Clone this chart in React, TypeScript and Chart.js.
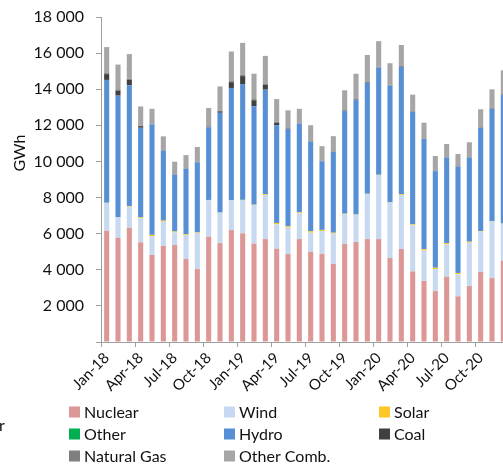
import React, { useEffect, useRef } from 'react';
import { Chart, registerables } from 'chart.js';
Chart.register(...registerables);

const months = [
  'Jan-18','Feb-18','Mar-18','Apr-18','May-18','Jun-18','Jul-18','Aug-18','Sep-18','Oct-18','Nov-18','Dec-18',
  'Jan-19','Feb-19','Mar-19','Apr-19','May-19','Jun-19','Jul-19','Aug-19','Sep-19','Oct-19','Nov-19','Dec-19',
  'Jan-20','Feb-20','Mar-20','Apr-20','May-20','Jun-20','Jul-20','Aug-20','Sep-20','Oct-20','Nov-20','Dec-20',
];

const nuclear = [6160,5760,6330,5520,4820,5320,5370,4600,4040,5830,5480,6200, 6020,5450,5700,5170,4870,5700,5000,4870,4320,5430,5540,5700, 5700,4650,5150,3910,3380,2820,3620,2530,3100,3880,3540,4500];
const wind = [1540,1140,1160,1330,1050,1340,700,1320,2000,2020,1680,1650, 1840,2140,2440,1350,1460,1430,1050,1280,1680,1640,1510,2500, 3550,3070,2990,2550,1680,1220,1790,1220,2400,2230,3140,2050];
const solar = [10,10,40,50,60,60,50,45,30,15,10,5, 10,15,40,70,70,55,80,55,50,35,15,10, 10,15,45,55,75,70,70,70,55,35,15,10];
const other = [5,5,5,5,5,5,5,5,5,5,5,5, 5,5,5,5,5,5,5,5,5,5,5,5, 5,5,5,5,5,5,5,5,5,5,5,5];
const hydro = [6800,6730,6680,4960,6120,3870,3140,3620,3880,4020,5520,6210, 6410,5450,5790,5410,5390,4910,4960,3800,4470,5680,6330,6130, 5930,6460,7040,6220,6100,5350,4720,5890,4650,5720,6220,7110];
const coal = [320,280,310,90,10,5,5,5,5,20,80,320, 440,330,280,140,5,5,5,5,5,10,10,10, 5,5,5,5,5,5,5,5,5,5,5,5];
const naturalGas = [60,70,60,40,30,30,25,25,30,40,50,60, 70,60,60,50,40,30,35,30,30,40,50,50, 50,45,45,35,30,30,25,25,30,35,40,45];
const otherComb = [1440,1370,1360,1050,820,760,690,730,810,1010,1330,1640, 1770,1410,1530,1260,990,780,870,800,840,1100,1400,1490, 1410,1190,1170,920,870,800,730,670,820,980,1030,1320];

const seriesNames = ['Nuclear','Wind','Solar','Other','Hydro','Coal','Natural Gas','Other Comb.'];
const seriesColors = ['#dc9896','#c6d9f1','#ffc628','#00b050','#578fd6','#404040','#7f7f7f','#a6a6a6'];
const seriesData = [nuclear, wind, solar, other, hydro, coal, naturalGas, otherComb];

const AXIS = '#a0a0a0';
const TEXT = '#111111';
const FONT = 'Lato';

const fmt = (v: number) => String(v).replace(/\B(?=(\d{3})+(?!\d))/g, ' ');

const overlay = {
  id: 'overlay',
  afterDraw(chart: any) {
    const ctx = chart.ctx as CanvasRenderingContext2D;
    ctx.save();
    ctx.fillStyle = TEXT;
    ctx.font = `16px ${FONT}`;
    // y-axis title
    ctx.save();
    ctx.translate(20, 153);
    ctx.rotate(-Math.PI / 2);
    ctx.textAlign = 'center';
    ctx.textBaseline = 'middle';
    ctx.fillText('GWh', 0, 0);
    ctx.restore();
    // cut-off text at left
    ctx.textAlign = 'left';
    ctx.textBaseline = 'middle';
    ctx.fillText('r', -1, 426);
    // legend
    const ds = chart.data.datasets;
    ds.forEach((d: any, i: number) => {
      const col = i % 3;
      const row = Math.floor(i / 3);
      const cy = 412 + row * 22;
      const bx = 69 + col * 155;
      ctx.fillStyle = d.backgroundColor;
      ctx.fillRect(bx, cy - 5.5, 11, 11);
      ctx.fillStyle = TEXT;
      ctx.fillText(d.label, bx + 15, cy + 1);
    });
    ctx.restore();
  },
};

export default function App() {
  const ref = useRef<HTMLCanvasElement>(null);
  useEffect(() => {
    const canvas = ref.current!;
    const chart = new Chart(canvas, {
      type: 'bar',
      data: {
        labels: months,
        datasets: seriesNames.map((name, i) => ({
          label: name,
          data: seriesData[i],
          backgroundColor: seriesColors[i],
          borderWidth: 0,
          barPercentage: 0.45,
          categoryPercentage: 1,
        })),
      },
      options: {
        animation: false,
        responsive: false,
        maintainAspectRatio: false,
        layout: { padding: { top: 17, left: 0, right: 6, bottom: 0 } },
        plugins: { legend: { display: false }, tooltip: { enabled: false } },
        scales: {
          x: {
            stacked: true,
            offset: true,
            grid: {
              offset: true,
              drawOnChartArea: false,
              tickLength: 5,
              color: AXIS,
              tickColor: (c: any) => (c.index % 3 === 0 ? AXIS : 'rgba(0,0,0,0)'),
            },
            border: { color: AXIS, width: 1 },
            ticks: {
              autoSkip: false,
              maxRotation: 45,
              minRotation: 45,
              padding: 2,
              color: TEXT,
              font: { family: FONT, size: 15 },
              callback: (_v: any, i: number) => (i % 3 === 0 ? months[i] : ''),
            },
            afterFit: (s: any) => {
              s.height = 122;
              s.paddingLeft = 0;
              s.paddingRight = 0;
            },
          },
          y: {
            stacked: true,
            min: 0,
            max: 18000,
            grid: { drawOnChartArea: false, tickLength: 5, color: AXIS },
            border: { color: AXIS, width: 1 },
            ticks: {
              stepSize: 2000,
              padding: 12,
              color: TEXT,
              font: { family: FONT, size: 16 },
              callback: (v: any) => (v === 0 ? '' : fmt(Number(v))),
            },
            afterFit: (s: any) => {
              s.width = 101;
              s.paddingTop = 0;
              s.paddingBottom = 0;
            },
          },
        },
      } as any,
      plugins: [overlay],
    });
    return () => chart.destroy();
  }, []);
  return (
    <div style={{ position: 'absolute', left: 0, top: 0, width: 503, height: 464, overflow: 'hidden', background: '#fff' }}>
      <canvas ref={ref} width={515} height={464} style={{ display: 'block' }} />
    </div>
  );
}
